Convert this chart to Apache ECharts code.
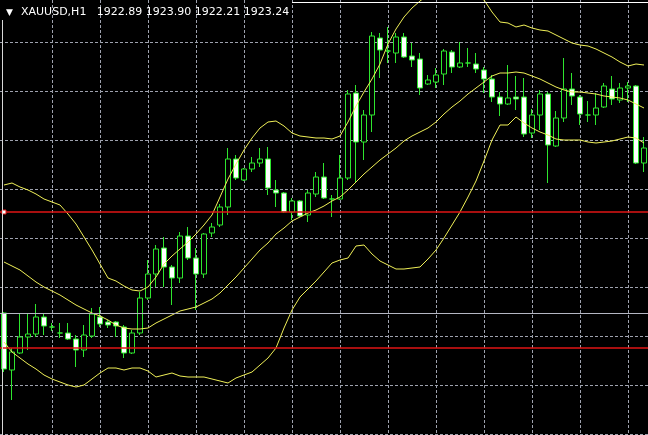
<!DOCTYPE html>
<html>
<head>
<meta charset="utf-8">
<title>XAUUSD,H1</title>
<script src="https://cdn.jsdelivr.net/npm/echarts@6/dist/echarts.min.js"></script>
<style>
  html, body { margin: 0; padding: 0; background: #000; }
  #chart { width: 648px; height: 435px; }
</style>
</head>
<body>
<div id="chart"></div>
<script>
// candles: [open, high, low, close]
var candles = [
  [1903.5,1903.6,1897.6,1897.9],[1897.8,1900.0,1894.8,1899.6],[1899.5,1903.5,1899.4,1901.1],
  [1901.1,1903.5,1899.8,1901.4],[1901.4,1904.4,1901.1,1903.1],[1903.1,1903.4,1901.3,1902.2],
  [1902.1,1902.5,1901.7,1902.1],[1901.5,1902.5,1901.0,1901.5],[1901.5,1902.5,1900.8,1900.9],
  [1900.9,1901.3,1898.1,1899.8],[1899.8,1902.3,1899.1,1901.3],[1901.2,1904.0,1901.0,1903.4],
  [1903.1,1904.1,1902.1,1902.4],[1902.6,1902.8,1902.0,1902.3],[1902.6,1902.7,1901.1,1902.2],
  [1902.1,1902.3,1899.0,1899.5],[1899.5,1901.8,1899.4,1901.5],[1901.5,1905.6,1901.3,1905.0],
  [1905.0,1908.8,1904.8,1907.4],[1907.4,1910.3,1906.1,1909.9],[1910.0,1911.1,1906.1,1908.1],
  [1908.1,1908.3,1904.3,1907.0],[1907.0,1911.6,1906.5,1911.2],[1911.2,1912.1,1908.8,1909.0],
  [1909.0,1910.0,1903.8,1907.4],[1907.4,1911.5,1907.0,1911.4],[1911.5,1912.5,1911.1,1912.1],
  [1912.3,1914.4,1912.1,1914.1],[1914.1,1920.0,1913.3,1918.9],[1918.9,1919.3,1916.8,1917.0],
  [1916.8,1918.0,1916.7,1917.9],[1917.9,1919.1,1917.6,1918.5],[1918.5,1920.0,1918.1,1918.9],
  [1918.9,1920.1,1915.3,1916.0],[1915.8,1916.8,1914.1,1915.5],[1915.5,1915.6,1913.5,1913.6],
  [1913.6,1915.0,1912.8,1914.7],[1914.7,1914.8,1913.1,1913.2],[1913.3,1915.8,1912.6,1915.5],
  [1915.4,1917.6,1915.1,1917.1],[1917.1,1918.5,1914.9,1915.0],[1914.9,1915.3,1913.1,1914.9],
  [1914.9,1919.3,1914.8,1917.0],[1917.0,1925.8,1916.8,1925.4],[1925.5,1926.3,1916.6,1920.6],
  [1920.6,1923.8,1918.8,1923.3],[1923.3,1931.6,1921.6,1931.2],[1931.0,1931.5,1927.0,1929.8],
  [1929.7,1932.1,1928.5,1929.7],[1929.5,1931.5,1928.5,1931.1],[1931.1,1931.5,1929.0,1929.1],
  [1929.2,1930.5,1928.1,1928.8],[1928.9,1929.5,1925.3,1926.0],[1926.4,1927.3,1926.3,1926.8],
  [1926.6,1928.0,1926.0,1927.3],[1927.4,1929.9,1926.3,1929.7],[1929.6,1929.8,1927.5,1928.1],
  [1928.1,1930.6,1928.0,1928.5],[1928.5,1930.0,1928.1,1928.5],[1928.4,1929.5,1927.5,1927.9],
  [1927.8,1928.1,1925.5,1926.9],[1926.9,1927.3,1924.6,1925.1],[1925.1,1925.6,1923.2,1924.4],
  [1924.4,1928.3,1924.3,1925.0],[1925.1,1927.2,1923.8,1924.9],[1925.1,1927.0,1921.1,1921.4],
  [1921.5,1923.9,1921.0,1923.3],[1923.3,1925.8,1921.8,1925.4],[1925.4,1925.6,1916.5,1920.3],
  [1920.2,1923.7,1920.1,1923.0],[1923.0,1929.0,1922.6,1925.9],[1925.9,1927.5,1924.3,1925.2],
  [1925.1,1925.3,1922.3,1923.4],[1923.3,1924.7,1922.6,1923.3],[1923.3,1925.5,1922.3,1924.0],
  [1924.1,1926.5,1924.0,1926.2],[1925.9,1927.2,1924.3,1924.9],[1924.8,1926.5,1924.5,1926.0],
  [1926.0,1926.6,1924.6,1926.2],[1926.2,1926.3,1918.4,1918.5],[1918.5,1921.1,1917.6,1920.0]
];

// Bollinger bands
var bandUpper = [
  1916.3,1916.5,1916.1,1915.8,1915.4,1914.9,1914.6,1914.3,1913.4,1912.4,
  1911.1,1909.8,1908.4,1907.0,1906.7,1906.2,1905.8,1905.7,1906.1,1907.1,
  1908.4,1909.2,1909.9,1910.6,1911.4,1912.3,1913.3,1915.1,1916.9,1918.4,
  1919.8,1921.0,1922.0,1922.6,1922.7,1922.2,1921.5,1921.2,1921.1,1921.0,
  1921.0,1920.9,1921.2,1922.6,1924.2,1925.6,1926.9,1928.4,1930.4,1931.9,
  1933.1,1934.0,1934.7,1935.3,1935.8,1936.1,1936.2,1936.0,1935.7,1935.3,
  1934.8,1933.6,1932.6,1932.5,1932.1,1932.3,1932.0,1931.8,1931.7,1931.3,
  1930.9,1930.5,1930.3,1930.2,1929.9,1929.5,1929.1,1928.6,1928.2,1928.4,
  1928.3
];
var bandMiddle = [
  1908.6,1908.2,1907.8,1907.2,1906.6,1906.1,1905.7,1905.3,1904.8,1904.3,
  1903.9,1903.5,1903.2,1902.8,1902.3,1902.0,1901.9,1901.9,1902.0,1902.5,
  1902.9,1903.3,1903.7,1903.9,1904.1,1904.5,1904.9,1905.5,1906.3,1907.1,
  1908.0,1908.9,1909.8,1910.5,1911.4,1912.0,1912.7,1913.1,1913.5,1913.8,
  1914.2,1914.7,1915.1,1915.8,1916.6,1917.4,1918.1,1918.8,1919.4,1920.0,
  1920.7,1921.2,1921.6,1922.0,1922.6,1923.4,1924.1,1924.7,1925.4,1926.0,
  1926.6,1927.2,1927.5,1927.5,1927.6,1927.5,1927.2,1926.9,1926.5,1926.1,
  1925.8,1925.6,1925.6,1925.5,1925.4,1925.2,1925.1,1925.0,1924.8,1924.4,
  1924.0
];
var bandLower = [
  1900.6,1899.6,1899.0,1898.4,1897.9,1897.3,1896.9,1896.6,1896.3,1896.1,
  1896.3,1896.9,1897.5,1898.0,1898.0,1897.8,1898.0,1898.0,1897.7,1897.1,
  1897.3,1897.5,1897.2,1897.1,1897.1,1897.1,1896.9,1896.7,1896.5,1897.0,
  1897.3,1897.6,1898.3,1899.0,1900.0,1902.0,1903.8,1905.1,1905.9,1906.7,
  1907.6,1908.5,1908.8,1909.0,1910.2,1910.3,1909.4,1908.7,1908.3,1907.9,
  1907.9,1908.0,1908.1,1908.9,1909.8,1911.0,1912.3,1913.6,1915.1,1916.7,
  1918.7,1920.8,1922.3,1922.3,1923.1,1922.5,1922.0,1921.6,1921.3,1920.9,
  1920.8,1920.8,1920.8,1920.6,1920.5,1920.6,1920.7,1920.9,1921.1,1921.0,
  1920.5
];

// horizontal levels drawn on the chart
var redLevels = [1913.6, 1900.0];
var grayLevel = 1903.5;

// hourly bar labels (axis labels are not shown)
var hours = [];
for (var k = 0; k < candles.length; k++) {
  var h = (4 + k) % 24, d = 11 + Math.floor((4 + k) / 24);
  hours.push('07.' + d + ' ' + (h < 10 ? '0' : '') + h + ':00');
}

var green = '#2ee62e';
var bandColor = '#f0f058';
var gridLine = { color: '#9ea2ae', type: [3, 2], width: 1 };

var myChart = echarts.init(document.getElementById('chart'));

var option = {
  backgroundColor: '#000000',
  animation: false,
  title: [
    {
      text: '\u25BC', left: 6, top: 8, padding: 0,
      textStyle: { color: '#ffffff', fontSize: 9, fontFamily: 'DejaVu Sans', fontWeight: 'normal' }
    },
    {
      text: 'XAUUSD,H1   1922.89 1923.90 1922.21 1923.24', left: 21, top: 7, padding: 0,
      textStyle: { color: '#ffffff', fontSize: 11, fontFamily: 'DejaVu Sans', fontWeight: 'normal' }
    }
  ],
  grid: { left: 0, right: 0, top: 0, bottom: 1, containLabel: false },
  xAxis: {
    type: 'category',
    data: hours,
    boundaryGap: true,
    axisLine: { show: false },
    axisTick: { show: false },
    axisLabel: { show: false },
    splitLine: {
      show: true,
      alignWithLabel: true,
      interval: function (i) { return i > 0 && i % 6 === 0; },
      lineStyle: gridLine
    }
  },
  yAxis: {
    type: 'value',
    min: 1891.4,
    max: 1934.8,
    interval: 4.9,
    axisLine: { show: false },
    axisTick: { show: false },
    axisLabel: { show: false },
    splitLine: { show: true, showMaxLine: false, lineStyle: gridLine }
  },
  series: [
    {
      name: 'XAUUSD',
      type: 'candlestick',
      barWidth: 5,
      data: candles.map(function (c) { return [c[0], c[3], c[2], c[1]]; }),
      itemStyle: {
        color: '#000000',
        color0: '#ffffff',
        borderColor: green,
        borderColor0: green,
        borderColorDoji: green,
        borderWidth: 1
      },
      markLine: {
        silent: true,
        symbol: ['none', 'none'],
        label: { show: false },
        lineStyle: { type: 'solid', width: 1.5, color: '#e01414' },
        data: redLevels.map(function (v) { return { yAxis: v }; }).concat([
          { yAxis: grayLevel, lineStyle: { color: '#b4b6c2', width: 1.2 } }
        ])
      },
      markPoint: {
        silent: true,
        symbol: 'rect',
        symbolSize: 4,
        label: { show: false },
        itemStyle: { color: '#ffffff', borderColor: '#e01414', borderWidth: 1 },
        data: [{ coord: [hours[0], redLevels[0]] }]
      }
    },
    {
      name: 'BB upper', type: 'line', data: bandUpper, showSymbol: false, z: 3,
      lineStyle: { color: bandColor, width: 1 }
    },
    {
      name: 'BB middle', type: 'line', data: bandMiddle, showSymbol: false, z: 3,
      lineStyle: { color: bandColor, width: 1 }
    },
    {
      name: 'BB lower', type: 'line', data: bandLower, showSymbol: false, z: 3,
      lineStyle: { color: bandColor, width: 1 }
    }
  ],
  // window frame
  graphic: [
    { type: 'line', z: 100, shape: { x1: 2.5, y1: 20, x2: 2.5, y2: 435 }, style: { stroke: '#d8d8d8', lineWidth: 1 } },
    { type: 'line', z: 100, shape: { x1: 292, y1: 2.5, x2: 648, y2: 2.5 }, style: { stroke: '#ffffff', lineWidth: 1 } }
  ]
};

myChart.setOption(option);
window.addEventListener('resize', function () {
  myChart.resize();
});
</script>
</body>
</html>
